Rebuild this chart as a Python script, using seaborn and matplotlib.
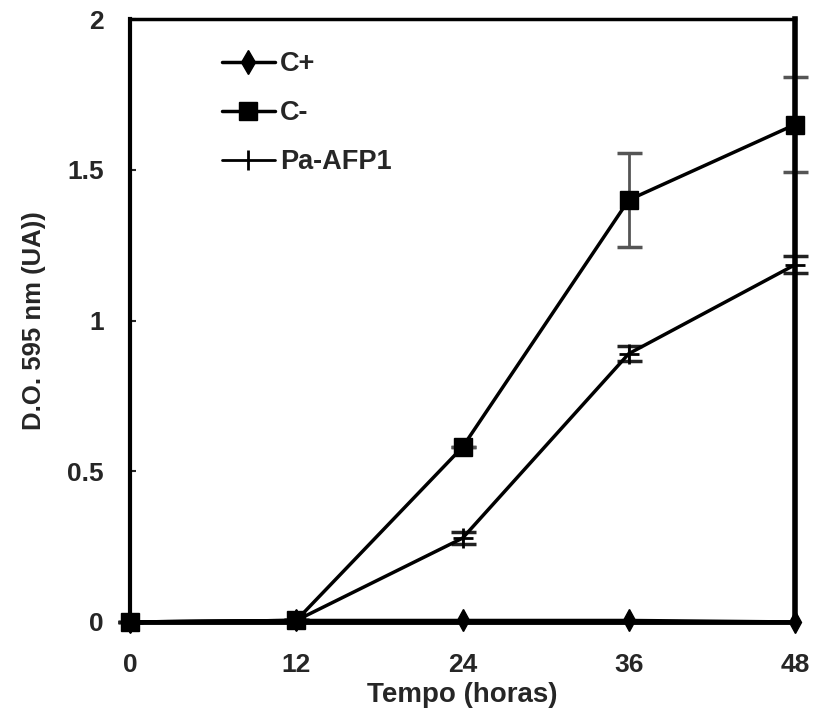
import matplotlib
matplotlib.use("Agg")
import matplotlib.pyplot as plt
import seaborn as sns
import pandas as pd
from matplotlib.lines import Line2D

hours = [0, 12, 24, 36, 48]
c_plus = [0.0, 0.005, 0.005, 0.005, 0.0]
c_minus = [0.0, 0.005, 0.58, 1.40, 1.65]
c_minus_err = [0.0, 0.0, 0.0, 0.157, 0.157]
pa_afp1 = [0.0, 0.005, 0.278, 0.89, 1.185]
pa_afp1_err = [0.0, 0.0, 0.02, 0.025, 0.028]
series_names = ["C+", "C-", "Pa-AFP1"]
xticks = [0, 12, 24, 36, 48]
yticks = [0, 0.5, 1, 1.5, 2]
ytick_labels = ["0", "0.5", "1", "1.5", "2"]

sns.set_theme(style="white")
plt.rcParams['font.family'] = ['Liberation Sans', 'DejaVu Sans']
plt.rcParams['font.weight'] = 'bold'

fig = plt.figure(figsize=(8.15, 7.11), dpi=100)
ax = fig.add_axes([0.1595, 0.1252, 0.816, 0.848])

# error bars
eb1 = ax.errorbar(hours, c_minus, yerr=c_minus_err, fmt="none", ecolor="#555555",
                  elinewidth=2, capsize=9, capthick=2.5, zorder=2)
eb2 = ax.errorbar(hours, pa_afp1, yerr=pa_afp1_err, fmt="none", ecolor="#222222",
                  elinewidth=1.5, capsize=9, capthick=2.5, zorder=2)
for eb in (eb1, eb2):
    for art in eb.lines[1] + eb.lines[2]:
        art.set_clip_on(False)

styles = [("d", 11, 1.0), ("s", 13, 1.0), ("+", 15, 2)]
for name, vals, (mk, ms, mew) in zip(series_names, [c_plus, c_minus, pa_afp1], styles):
    d = pd.DataFrame({"hours": hours, "value": vals})
    sns.lineplot(data=d, x="hours", y="value", color="black", marker=mk,
                 markersize=ms, markeredgecolor="black", markerfacecolor="black",
                 markeredgewidth=mew, linewidth=2.5, ax=ax, zorder=3, clip_on=False)

ax.set_xlim(0, 48)
ax.set_ylim(0, 2)
ax.set_xticks(xticks)
ax.set_yticks(yticks)
ax.set_yticklabels(ytick_labels)
ax.tick_params(axis="both", direction="in", length=4, width=1.5, labelsize=19, pad=19,
               bottom=False, left=True)
ax.tick_params(axis="x", pad=22)
ax.set_xlabel("Tempo (horas)", fontsize=20, fontweight="bold", labelpad=4)
ax.set_ylabel("D.O. 595 nm (UA))", fontsize=18.5, fontweight="bold", labelpad=15)
for lab in ax.get_xticklabels() + ax.get_yticklabels():
    lab.set_fontweight("bold")

for side, lw in [("left", 3), ("bottom", 3.5), ("right", 4), ("top", 2.5)]:
    ax.spines[side].set_visible(True)
    ax.spines[side].set_color("black")
    ax.spines[side].set_linewidth(lw)

handles = [
    Line2D([], [], color="black", lw=2.5, marker="d", ms=12),
    Line2D([], [], color="black", lw=2.5, marker="s", ms=13),
    Line2D([], [], color="black", lw=2, marker="|", ms=14, mew=2),
]
ax.legend(handles, series_names, loc="upper left", bbox_to_anchor=(0.138, 0.947),
          frameon=False, labelspacing=0.85, handlelength=1.95, borderpad=0,
          borderaxespad=0, handletextpad=0.2, prop={"weight": "bold", "size": 19.5})

fig.savefig("out.png", dpi=100)
